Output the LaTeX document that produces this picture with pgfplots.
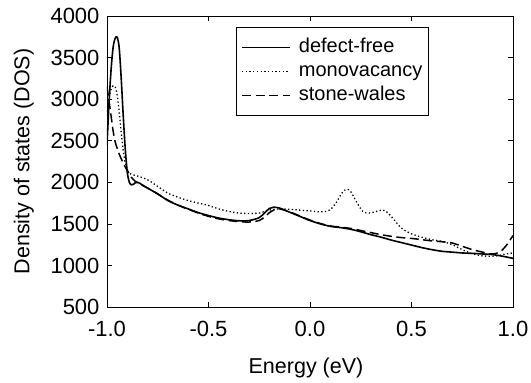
\documentclass[border=0pt]{standalone}
\usepackage{pgfplots}
\pgfplotsset{compat=1.18}
\usepackage{fontspec}
\setmainfont{Liberation Sans}
\begin{document}
\begin{tikzpicture}
\useasboundingbox (-107pt,-76pt) rectangle (424pt,307pt);
\begin{axis}[
  at={(0,0)}, anchor=south west,
  scale only axis, width=406pt, height=291pt,
  xmin=-1, xmax=1, ymin=500, ymax=4000,
  xtick={-1,-0.5,0,0.5,1}, ytick={500,1000,...,4000},
  xticklabel style={yshift=-11pt, /pgf/number format/fixed, /pgf/number format/fixed zerofill, /pgf/number format/precision=1},
  /pgf/number format/assume math mode=true,
  yticklabel style={xshift=-4pt, /pgf/number format/1000 sep={}},
  tick align=inside, major tick length=5pt,
  tick style={black, line width=0.7pt},
  axis line style={line width=0.9pt},
  ticklabel style={font=\fontsize{22}{26}\selectfont},
  xlabel={Energy (eV)}, ylabel={Density of states (DOS)},
  xlabel style={font=\fontsize{21.5}{25}\selectfont, at={(axis description cs:0.5,0)}, anchor=north, inner sep=0pt, yshift=-51pt, xshift=-4pt},
  ylabel style={font=\fontsize{21.5}{25}\selectfont, at={(axis description cs:-0.18,0.5)}, anchor=south, inner sep=0pt},
  legend style={at={(0.3177,0.962)}, anchor=north west, draw=black, line width=0.6pt,
    font=\fontsize{20}{24}\selectfont, inner xsep=5pt, inner ysep=9pt, row sep=2pt, column sep=7pt,
    nodes={inner sep=1pt, text height=15pt, text depth=5pt}},
  legend cell align=left,
  legend image code/.code={\draw[#1] (0pt,0pt) -- (48pt,0pt);},
]
\addplot[black, line width=1.6pt, smooth] coordinates {
(-1.0,2450) (-0.99,2950) (-0.98,3350) (-0.97,3620) (-0.96,3730) (-0.95,3745) (-0.94,3620)
(-0.93,3250) (-0.92,2800) (-0.91,2400) (-0.90,2120) (-0.89,2000) (-0.88,1970) (-0.87,1975)
(-0.86,1995) (-0.85,2000) (-0.84,1990) (-0.82,1960) (-0.80,1930) (-0.75,1860) (-0.70,1780)
(-0.65,1725) (-0.60,1680) (-0.55,1635) (-0.50,1600) (-0.45,1570) (-0.40,1550) (-0.35,1537)
(-0.30,1540) (-0.25,1575) (-0.22,1640) (-0.20,1685) (-0.18,1700) (-0.15,1690) (-0.10,1640)
(-0.05,1590) (0.00,1540) (0.05,1500) (0.10,1470) (0.15,1455) (0.20,1435) (0.25,1405)
(0.30,1370) (0.35,1340) (0.40,1305) (0.45,1275) (0.50,1245) (0.55,1215) (0.60,1190)
(0.65,1170) (0.70,1160) (0.75,1150) (0.80,1145) (0.85,1138) (0.90,1130) (0.95,1110) (1.00,1085)
};
\addlegendentry{defect-free}
\addplot[black, line width=1.3pt, dash pattern=on 1.3pt off 2.4pt, smooth] coordinates {
(-1.0,2800) (-0.99,3000) (-0.98,3120) (-0.97,3160) (-0.96,3150) (-0.95,3050) (-0.94,2850)
(-0.93,2600) (-0.92,2380) (-0.91,2230) (-0.90,2150) (-0.89,2110) (-0.88,2095) (-0.85,2075)
(-0.80,2030) (-0.75,1950) (-0.70,1870) (-0.65,1820) (-0.60,1780) (-0.55,1750) (-0.50,1720)
(-0.45,1680) (-0.40,1650) (-0.35,1630) (-0.30,1625) (-0.25,1630) (-0.20,1665) (-0.15,1680)
(-0.10,1675) (-0.05,1665) (0.00,1655) (0.05,1645) (0.08,1650) (0.10,1670) (0.13,1760)
(0.16,1880) (0.18,1915) (0.20,1890) (0.23,1760) (0.26,1650) (0.29,1630) (0.32,1645)
(0.35,1665) (0.37,1660) (0.40,1590) (0.45,1450) (0.50,1380) (0.55,1340) (0.60,1310)
(0.65,1290) (0.70,1250) (0.75,1190) (0.80,1140) (0.85,1115) (0.90,1110) (0.93,1120)
(0.97,1140) (1.00,1150)
};
\addlegendentry{monovacancy}
\addplot[black, line width=1.5pt, dash pattern=on 9pt off 4.5pt, smooth] coordinates {
(-1.0,3150) (-0.99,2980) (-0.98,2800) (-0.97,2620) (-0.96,2490) (-0.95,2410) (-0.94,2340)
(-0.92,2230) (-0.90,2140) (-0.88,2060) (-0.86,2010) (-0.84,1980) (-0.80,1930) (-0.75,1860)
(-0.70,1785) (-0.65,1725) (-0.60,1675) (-0.55,1630) (-0.50,1590) (-0.45,1560) (-0.40,1540)
(-0.35,1527) (-0.30,1522) (-0.25,1540) (-0.22,1590) (-0.20,1635) (-0.17,1675) (-0.15,1680)
(-0.10,1645) (-0.05,1595) (0.00,1545) (0.05,1505) (0.10,1475) (0.15,1460) (0.20,1445)
(0.25,1420) (0.30,1395) (0.35,1370) (0.40,1350) (0.45,1335) (0.50,1325) (0.55,1310)
(0.60,1295) (0.65,1285) (0.70,1270) (0.75,1230) (0.80,1190) (0.85,1160) (0.88,1140)
(0.91,1140) (0.94,1170) (0.97,1250) (1.00,1360)
};
\addlegendentry{stone-wales}
\end{axis}
\end{tikzpicture}
\end{document}
